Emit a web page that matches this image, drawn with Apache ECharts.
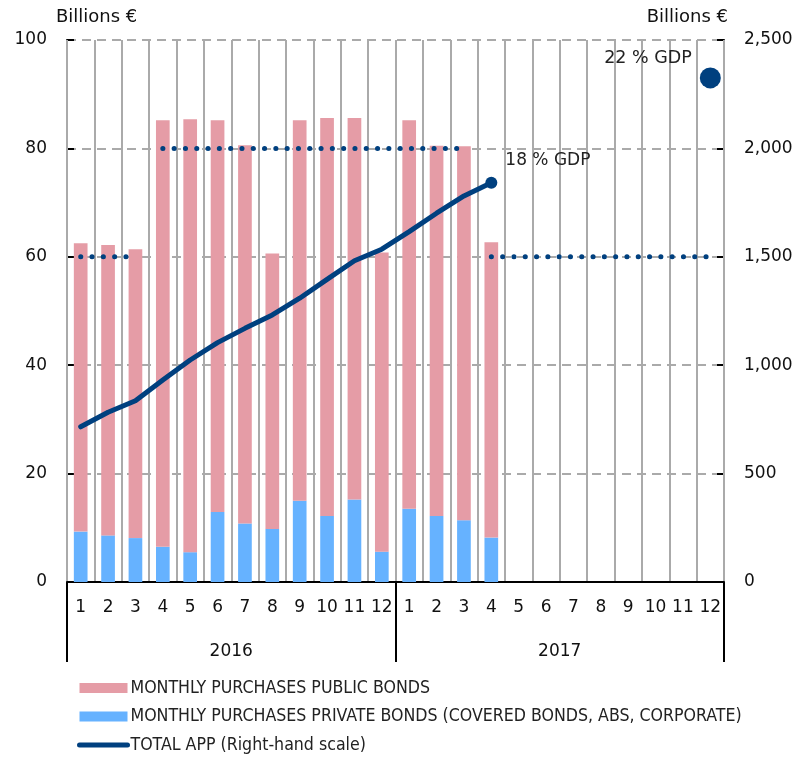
<!DOCTYPE html>
<html>
<head>
<meta charset="utf-8">
<script src="https://cdn.jsdelivr.net/npm/echarts@6/dist/echarts.min.js"></script>
<style>html,body{margin:0;padding:0;background:#fff}#c{width:800px;height:757px}</style>
</head>
<body>
<div id="c"></div>
<script>
const months = ['1','2','3','4','5','6','7','8','9','10','11','12','1','2','3','4','5','6','7','8','9','10','11','12'];
const years = ['2016','2017'];
const privateBonds = [9.3, 8.6, 8.1, 6.5, 5.5, 12.9, 10.8, 9.8, 15.0, 12.2, 15.2, 5.6, 13.5, 12.2, 11.4, 8.2];
const publicBonds = [53.2, 53.6, 53.3, 78.7, 79.9, 72.3, 69.8, 50.8, 70.2, 73.4, 70.4, 55.2, 71.7, 68.3, 69.0, 54.5];
const totalApp = [716, 783, 836, 932, 1024, 1104, 1170, 1232, 1309, 1396, 1482, 1535, 1616, 1701, 1781, 1842];
const paceA = [60, 60, 60, null, null, null, null, null, null, null, null, null, null, null, null, 60, 60, 60, 60, 60, 60, 60, 60, 60];
const paceB = [null, null, null, 80, 80, 80, 80, 80, 80, 80, 80, 80, 80, 80, 80, null, null, null, null, null, null, null, null, null];
const targetIndex = 23;
const targetValue = 2325;

const DARK = '#00407f';
const PINK = '#e59ca6';
const BLUE = '#66b2ff';
const GRID = '#aaaaaa';
const AX_FONT = 'DejaVu Sans';
const LEG_FONT = '"Liberation Sans Narrow", "DejaVu Sans Condensed", "Liberation Sans", sans-serif';

const totalData = totalApp.map((v, i) => {
  if (i === totalApp.length - 1) {
    return {
      value: v, symbol: 'circle', symbolSize: 12,
      label: { show: true, position: 'right', distance: 5, offset: [3, -22],
        formatter: '18 % GDP', fontFamily: AX_FONT, fontSize: 17, color: '#222' }
    };
  }
  return { value: v, symbol: 'none' };
});

const chart = echarts.init(document.getElementById('c'), null, { renderer: 'canvas' });
chart.setOption({
  animation: false,
  backgroundColor: '#fff',
  grid: { left: 67, right: 76, top: 40, bottom: 175, containLabel: false },
  legend: {
    orient: 'vertical', left: 77, top: 679, padding: 0, itemWidth: 48, itemHeight: 10, itemGap: 10.5,
    textStyle: { fontFamily: LEG_FONT, fontSize: 17.6, color: '#222', padding: [0, 0, 0, -2] },
    data: [
      { name: 'MONTHLY PURCHASES PUBLIC BONDS', icon: 'rect' },
      { name: 'MONTHLY PURCHASES PRIVATE BONDS (COVERED BONDS, ABS, CORPORATE)', icon: 'rect' },
      { name: 'TOTAL APP (Right-hand scale)', itemStyle: { opacity: 0 },
        lineStyle: { width: 5, color: DARK, cap: 'round' } }
    ]
  },
  xAxis: [
    {
      type: 'category', data: months, position: 'bottom', boundaryGap: true,
      axisLine: { show: true, lineStyle: { color: '#000', width: 2 } },
      axisTick: { show: false },
      axisLabel: { margin: 17, fontFamily: AX_FONT, fontSize: 17, color: '#111', interval: 0 },
      splitLine: { show: true, lineStyle: { color: GRID, width: 2, type: 'solid' } },
      z: 3
    },
    {
      type: 'category', data: years, position: 'bottom', boundaryGap: true,
      axisLine: { show: false },
      axisTick: { show: true, length: 80, lineStyle: { color: '#000', width: 2 } },
      axisLabel: { margin: 61, fontFamily: AX_FONT, fontSize: 17, color: '#111' },
      splitLine: { show: false }
    }
  ],
  yAxis: [
    {
      type: 'value', min: 0, max: 100, interval: 20, position: 'left',
      axisLine: { show: true, lineStyle: { color: '#000', width: 2 } },
      axisTick: { show: true, inside: true, length: 7, lineStyle: { color: '#000', width: 2 } },
      axisLabel: { margin: 20, fontFamily: AX_FONT, fontSize: 17, color: '#111' },
      splitLine: { show: true, lineStyle: { color: GRID, width: 2, type: [9, 6] } }
    },
    {
      type: 'value', min: 0, max: 2500, interval: 500, position: 'right',
      axisLine: { show: true, lineStyle: { color: '#000', width: 2 } },
      axisTick: { show: true, inside: true, length: 7, lineStyle: { color: '#000', width: 2 } },
      axisLabel: { margin: 20, fontFamily: AX_FONT, fontSize: 17, color: '#111',
        formatter: v => v.toLocaleString('en-US') },
      splitLine: { show: false }
    }
  ],
  graphic: [
    { type: 'text', left: 56, top: 8, style: { text: 'Billions €', font: '18px "DejaVu Sans"', fill: '#111' } },
    { type: 'text', right: 72, top: 8, style: { text: 'Billions €', font: '18px "DejaVu Sans"', fill: '#111' } }
  ],
  series: [
    {
      name: 'MONTHLY PURCHASES PRIVATE BONDS (COVERED BONDS, ABS, CORPORATE)',
      type: 'bar', stack: 'app', data: privateBonds, barWidth: '50%',
      itemStyle: { color: BLUE }, z: 4
    },
    {
      name: 'MONTHLY PURCHASES PUBLIC BONDS',
      type: 'bar', stack: 'app', data: publicBonds, barWidth: '50%',
      itemStyle: { color: PINK }, z: 4
    },
    {
      name: 'pace1', type: 'line', data: paceA, symbol: 'none', connectNulls: false,
      lineStyle: { color: DARK, width: 5, type: [0.1, 11.2], cap: 'round' }, z: 5, silent: true
    },
    {
      name: 'pace2', type: 'line', data: paceB, symbol: 'none', connectNulls: false,
      lineStyle: { color: DARK, width: 5, type: [0.1, 11.2], cap: 'round' }, z: 5, silent: true
    },
    {
      name: 'TOTAL APP (Right-hand scale)', type: 'line', yAxisIndex: 1, data: totalData,
      showSymbol: true, symbol: 'none', itemStyle: { color: DARK },
      lineStyle: { color: DARK, width: 5, cap: 'round', join: 'round' }, z: 6
    },
    {
      name: 'target', type: 'scatter', yAxisIndex: 1, data: [[targetIndex, targetValue]],
      symbolSize: 21, itemStyle: { color: DARK, opacity: 1 }, z: 6,
      label: { show: true, position: 'left', distance: 5, offset: [-3, -19],
        formatter: '22 % GDP', fontFamily: AX_FONT, fontSize: 17.5, color: '#222' }
    }
  ]
});
</script>
</body>
</html>
